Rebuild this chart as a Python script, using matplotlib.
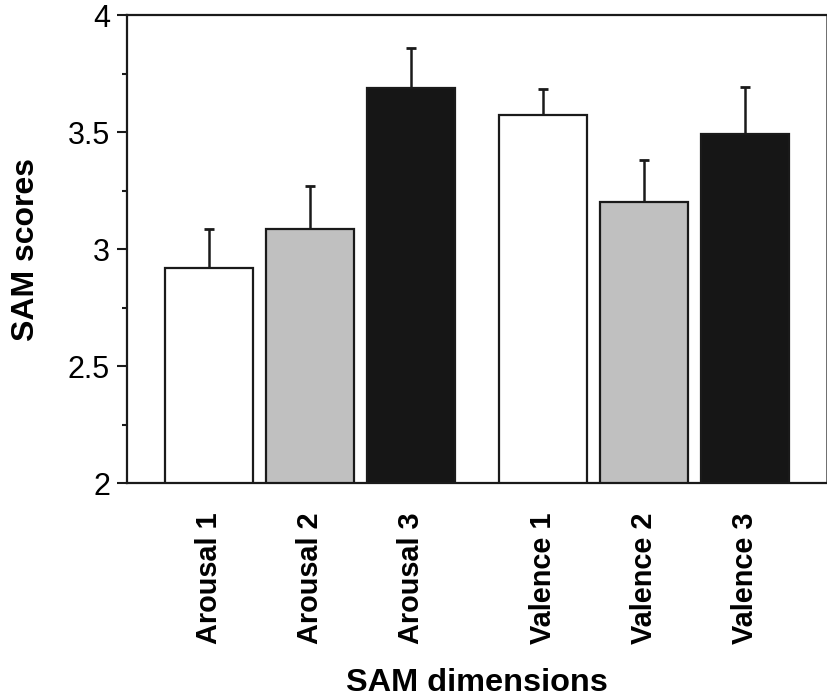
import matplotlib.pyplot as plt
from matplotlib.ticker import MultipleLocator

plt.rcParams['font.family'] = ['Liberation Sans', 'DejaVu Sans']

labels = ['Arousal 1', 'Arousal 2', 'Arousal 3', 'Valence 1', 'Valence 2', 'Valence 3']
means = [2.919, 3.085, 3.688, 3.573, 3.201, 3.491]
errors = [0.167, 0.184, 0.171, 0.111, 0.179, 0.201]
colors = ['white', '#c0c0c0', '#161616', 'white', '#c0c0c0', '#161616']

# two groups of three, wider gap between them
pos = [0, 1, 2, 3.3, 4.3, 5.3]

fig = plt.figure(figsize=(8.28, 6.98), dpi=100)
ax = fig.add_axes([0.1534, 0.308, 0.8454, 0.6705])

ax.bar(pos, means, width=0.87, color=colors, edgecolor='#1a1a1a',
       linewidth=1.6, zorder=2)
ax.errorbar(pos, means, yerr=[[0] * len(errors), errors], fmt='none',
            ecolor='#1a1a1a', elinewidth=1.8, capsize=3.6, capthick=2, zorder=1)

ax.set_ylim(2, 4)
ax.set_xlim(-0.81, 6.11)
ax.set_yticks([2, 2.5, 3, 3.5, 4])
ax.set_yticklabels(['2', '2.5', '3', '3.5', '4'], fontsize=22)
ax.yaxis.set_minor_locator(MultipleLocator(0.25))
ax.tick_params(axis='y', which='major', length=7.2, width=1.5, pad=5, color='#1a1a1a')
ax.tick_params(axis='y', which='minor', length=3.6, width=1.5, color='#1a1a1a')

ax.set_xticks(pos)
ax.set_xticklabels(labels, rotation=90, fontsize=20.8, fontweight='bold')
ax.tick_params(axis='x', length=0, pad=21)

for side in ['left', 'bottom', 'top']:
    ax.spines[side].set_linewidth(1.6)
    ax.spines[side].set_color('#1a1a1a')
ax.spines['right'].set_linewidth(1.2)
ax.spines['right'].set_color('#555555')

ax.set_ylabel('SAM scores', fontsize=23, fontweight='bold', labelpad=19)
ax.set_xlabel('SAM dimensions', fontsize=23.4, fontweight='bold', va='baseline')
ax.xaxis.set_label_coords(0.5, -0.444)

fig.savefig('out.png', dpi=100)
